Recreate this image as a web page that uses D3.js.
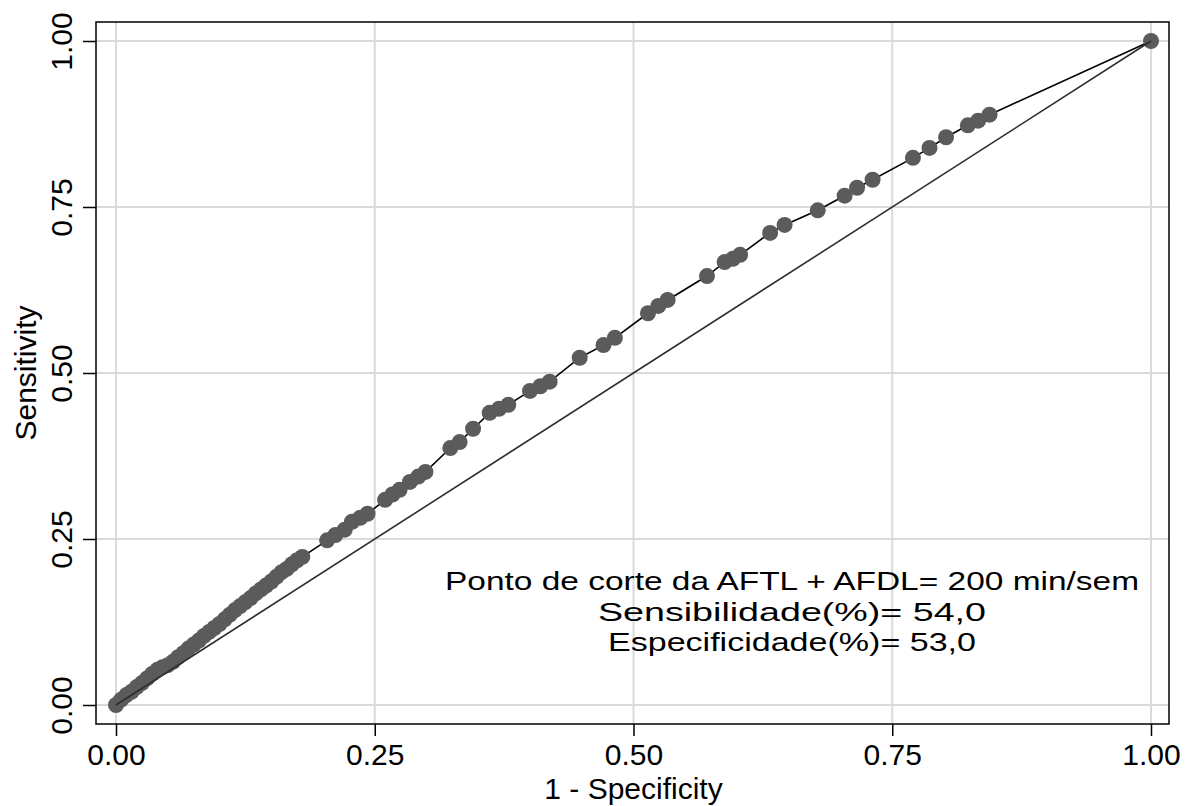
<!DOCTYPE html>
<html>
<head>
<meta charset="utf-8">
<script src="https://cdn.jsdelivr.net/npm/d3@7"></script>
<style>
  body { margin: 0; background: #fff; }
  text { font-family: "Liberation Sans", Arial, sans-serif; }
</style>
</head>
<body>
<svg id="svg"></svg>
<script>
const width = 1185, height = 806;

// ROC points: 1 - specificity vs sensitivity
const oneMinusSpec = [
  0, 0.005, 0.01, 0.015, 0.02, 0.025, 0.03, 0.035, 0.04, 0.045, 0.05, 0.055, 0.06, 0.065,
  0.07, 0.075, 0.08, 0.085, 0.09, 0.095, 0.1, 0.105, 0.11, 0.115, 0.12, 0.125, 0.13, 0.135,
  0.14, 0.145, 0.15, 0.155, 0.16, 0.165, 0.17, 0.175, 0.18,
  0.204, 0.212, 0.221, 0.228, 0.236, 0.243, 0.26, 0.267, 0.274, 0.284, 0.292, 0.299,
  0.323, 0.332, 0.345, 0.361, 0.37, 0.379, 0.4, 0.41, 0.419, 0.448, 0.471, 0.482,
  0.514, 0.524, 0.533, 0.571, 0.588, 0.596, 0.603, 0.632, 0.646, 0.678, 0.704, 0.716,
  0.731, 0.77, 0.786, 0.802, 0.823, 0.833, 0.844, 1
];
const sensitivity = [
  0, 0.008, 0.015, 0.02, 0.027, 0.033, 0.04, 0.047, 0.053, 0.057, 0.06, 0.065, 0.072, 0.078,
  0.085, 0.091, 0.097, 0.104, 0.11, 0.116, 0.122, 0.129, 0.136, 0.143, 0.149, 0.155, 0.161, 0.168,
  0.174, 0.18, 0.186, 0.193, 0.2, 0.205, 0.212, 0.218, 0.223,
  0.248, 0.256, 0.264, 0.276, 0.282, 0.288, 0.309, 0.317, 0.324, 0.336, 0.344, 0.351,
  0.387, 0.396, 0.416, 0.44, 0.446, 0.452, 0.473, 0.48, 0.487, 0.523, 0.542, 0.553,
  0.59, 0.601, 0.61, 0.646, 0.667, 0.672, 0.678, 0.711, 0.723, 0.745, 0.767, 0.779,
  0.791, 0.824, 0.839, 0.855, 0.873, 0.88, 0.889, 1
];
const tickValues = [0, 0.25, 0.5, 0.75, 1];
const noteLines = [
  "Ponto de corte da AFTL + AFDL= 200 min/sem",
  "Sensibilidade(%)= 54,0",
  "Especificidade(%)= 53,0"
];
// rendered widths of the note lines (the original font is wider than Arial)
const noteWidths = [694, 388, 368];

const points = oneMinusSpec.map((x, i) => ({x: x, y: sensitivity[i]}));

// frame and scales
const frame = {left: 96, top: 22, right: 1169, bottom: 724};
const x = d3.scaleLinear().domain([0, 1]).range([116, 1151]);
const y = d3.scaleLinear().domain([0, 1]).range([705, 41]);

const svg = d3.select("#svg")
    .attr("width", width)
    .attr("height", height);

svg.append("rect")
    .attr("width", width).attr("height", height).attr("fill", "#fff");

// grid
const grid = svg.append("g").attr("stroke", "#dadada").attr("stroke-width", 2);
grid.selectAll(".gx").data(tickValues).join("line")
    .attr("x1", d => x(d)).attr("x2", d => x(d))
    .attr("y1", frame.top).attr("y2", frame.bottom);
grid.selectAll(".gy").data(tickValues).join("line")
    .attr("y1", d => y(d)).attr("y2", d => y(d))
    .attr("x1", frame.left).attr("x2", frame.right);

// frame
svg.append("rect")
    .attr("x", frame.left).attr("y", frame.top)
    .attr("width", frame.right - frame.left)
    .attr("height", frame.bottom - frame.top)
    .attr("fill", "none")
    .attr("stroke", "#000")
    .attr("stroke-width", 1.5);

// axes
const xAxis = svg.append("g")
    .attr("transform", `translate(0,${frame.bottom})`)
    .call(d3.axisBottom(x).tickValues(tickValues).tickFormat(d3.format(".2f"))
        .tickSize(12).tickPadding(8));
xAxis.select(".domain").remove();
xAxis.selectAll("line").attr("stroke", "#000").attr("stroke-width", 1.5);
xAxis.selectAll("text").attr("font-size", 30).attr("fill", "#000")
    .style("font-family", "'Liberation Sans', Arial, sans-serif");

const yAxis = svg.append("g")
    .attr("transform", `translate(${frame.left},0)`)
    .call(d3.axisLeft(y).tickValues(tickValues).tickFormat(d3.format(".2f")).tickSize(13));
yAxis.select(".domain").remove();
yAxis.selectAll("line").attr("stroke", "#000").attr("stroke-width", 1.5);
yAxis.selectAll("text")
    .attr("transform", "rotate(-90)")
    .attr("x", 0).attr("y", -24).attr("dy", 0)
    .attr("text-anchor", "middle")
    .attr("font-size", 30).attr("fill", "#000")
    .style("font-family", "'Liberation Sans', Arial, sans-serif");

// axis titles
svg.append("text")
    .attr("x", (x(0) + x(1)) / 2).attr("y", 799)
    .attr("text-anchor", "middle").attr("font-size", 30)
    .text("1 - Specificity");
svg.append("text")
    .attr("transform", `translate(36,${(y(0) + y(1)) / 2}) rotate(-90)`)
    .attr("text-anchor", "middle").attr("font-size", 30)
    .text("Sensitivity");

// ROC line, then markers, then reference diagonal
svg.append("path")
    .datum(points)
    .attr("fill", "none")
    .attr("stroke", "#000")
    .attr("stroke-width", 1.6)
    .attr("d", d3.line().x(d => x(d.x)).y(d => y(d.y)));

svg.append("g")
    .selectAll("circle")
    .data(points)
    .join("circle")
    .attr("cx", d => x(d.x))
    .attr("cy", d => y(d.y))
    .attr("r", 8)
    .attr("fill", "#5b5b5b");

svg.append("line")
    .attr("x1", x(0)).attr("y1", y(0))
    .attr("x2", x(1)).attr("y2", y(1))
    .attr("stroke", "#2e2e2e")
    .attr("stroke-width", 1.6);

// annotation
svg.append("g")
    .selectAll("text")
    .data(noteLines)
    .join("text")
    .attr("x", 792)
    .attr("y", (d, i) => 590 + i * 30.5)
    .attr("text-anchor", "middle")
    .attr("font-size", 26)
    .attr("textLength", (d, i) => noteWidths[i])
    .attr("lengthAdjust", "spacingAndGlyphs")
    .attr("fill", "#000")
    .text(d => d);
</script>
</body>
</html>
